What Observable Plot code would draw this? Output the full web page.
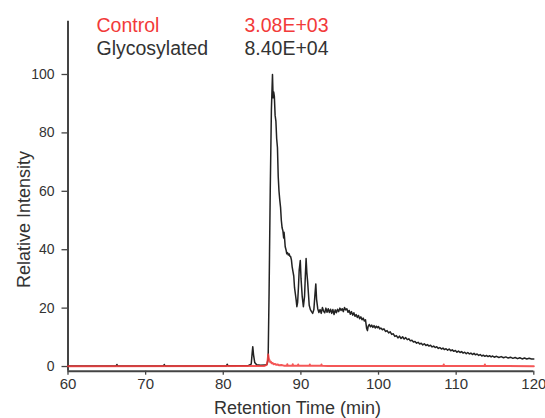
<!DOCTYPE html>
<html>
<head>
<meta charset="utf-8">
<script src="https://cdn.jsdelivr.net/npm/d3@7"></script>
<script src="https://cdn.jsdelivr.net/npm/@observablehq/plot@0.6"></script>
<style>
  html, body { margin: 0; padding: 0; background: #fff; }
  #chart { width: 545px; height: 418px; }
</style>
</head>
<body>
<div id="chart"></div>
<script>
// ---- data ----
const glycoTime = [
  60, 66.2, 66.3, 66.4, 72.3, 72.4, 72.5, 80.4, 80.5, 80.6,
  83.2, 83.6, 83.72, 83.8, 83.9, 84.05, 84.3, 84.8, 85.4, 85.65,
  85.78, 85.9, 86.05, 86.2, 86.34, 86.42, 86.5, 86.58, 86.68, 86.78,
  86.88, 86.98, 87.08, 87.18, 87.28, 87.38, 87.48, 87.58, 87.68, 87.78,
  87.83, 87.88, 87.98, 88.08, 88.18, 88.28, 88.38, 88.48, 88.58, 88.68,
  88.78, 88.88, 88.98, 89.08, 89.18, 89.28, 89.38, 89.48, 89.58, 89.68,
  89.78, 89.92, 90.02, 90.17, 90.32, 90.47, 90.57, 90.67, 90.77, 90.87,
  90.97, 91.07, 91.22, 91.37, 91.52, 91.67, 91.82, 91.92, 92.02, 92.17,
  92.32, 92.47, 92.62, 92.77, 92.92, 93.07, 93.22, 93.37, 93.52, 93.67,
  93.82, 93.97, 94.12, 94.27, 94.42, 94.57, 94.72, 94.87, 95.02, 95.17,
  95.32, 95.47, 95.62, 95.77, 95.92, 96.07, 96.22, 96.37, 96.52, 96.67,
  96.82, 96.97, 97.12, 97.27, 97.42, 97.57, 97.72, 97.87, 98.02, 98.17,
  98.32, 98.47, 98.57, 98.67, 98.82, 98.97, 99.12, 99.27, 99.42, 99.57,
  99.72, 99.87, 100.0, 100.15, 100.3, 100.5, 100.7, 100.9, 101.1, 101.3,
  101.5, 101.7, 101.9, 102.1, 102.3, 102.5, 102.7, 102.9, 103.1, 103.3,
  103.5, 103.7, 103.9, 104.1, 104.3, 104.5, 104.7, 104.9, 105.1, 105.3,
  105.5, 105.7, 105.9, 106.1, 106.3, 106.5, 106.7, 106.9, 107.1, 107.3,
  107.5, 107.7, 107.9, 108.1, 108.3, 108.5, 108.7, 108.9, 109.1, 109.3,
  109.5, 109.7, 109.9, 110.1, 110.3, 110.5, 110.7, 110.9, 111.1, 111.3,
  111.5, 111.7, 111.9, 112.1, 112.3, 112.5, 112.7, 112.9, 113.1, 113.3,
  113.5, 113.7, 113.9, 114.1, 114.3, 114.5, 114.7, 114.9, 115.2, 115.5,
  115.8, 116.1, 116.4, 116.7, 117.0, 117.3, 117.6, 117.9, 118.2, 118.5,
  118.8, 119.1, 119.4, 119.7, 120.0
];
const glycoValue = [
  0.2, 0.2, 0.7, 0.2, 0.2, 0.7, 0.2, 0.2, 0.8, 0.3,
  0.3, 0.8, 4.5, 6.8, 4.0, 1.4, 0.6, 0.4, 0.5, 0.8,
  2.5, 25, 60, 88, 100, 92, 94, 92.5, 86, 84,
  78, 75, 65, 60, 57, 54.5, 50, 47.5, 46.5, 44,
  46, 44.5, 41, 40, 38.6, 39, 38.2, 38.6, 37.8, 37.6,
  36.5, 34, 32.5, 31, 27, 25, 23, 20.5, 22, 27,
  33, 36.3, 30, 24, 20.5, 24, 31, 37, 32, 29,
  25, 21, 19.5, 18.8, 18.2, 19.5, 25, 28.3, 23, 19.8,
  18.5, 19.5, 18.2, 20.2, 19, 18.4, 20, 18.6, 19.8, 18.5,
  19.6, 18.2, 19.5, 17.8, 19.4, 18.4, 19.6, 18.8, 20, 19.2,
  19.8, 18.8, 20.2, 19.4, 19.8, 18.6, 19.2, 17.9, 18.8, 17.6,
  18.4, 17.2, 17.8, 16.8, 17.5, 16.4, 17, 16, 16.6, 15.6,
  16, 13, 12.3, 13.8, 14.4, 13.6, 14.2, 13.4, 14, 13.2,
  13.8, 13.3, 13.7, 12.9, 13.2, 12.6, 12.9, 12.0, 12.3, 11.5,
  11.9, 11.0, 11.2, 10.3, 10.6, 9.8, 10.4, 9.6, 10.2, 9.4,
  9.9, 9.2, 9.5, 8.8, 9.0, 8.4, 8.6, 8.0, 8.3, 7.7,
  8.0, 7.4, 7.8, 7.2, 7.5, 7.0, 7.3, 6.7, 7.0, 6.5,
  6.8, 6.2, 6.5, 6.0, 6.3, 5.8, 6.1, 5.6, 6.0, 5.4,
  5.7, 5.2, 5.5, 4.9, 5.3, 4.8, 5.1, 4.6, 4.9, 4.4,
  4.8, 4.3, 4.6, 4.1, 4.5, 4.0, 4.3, 3.8, 4.1, 3.6,
  3.9, 3.5, 3.8, 3.4, 3.7, 3.3, 3.6, 3.2, 3.5, 3.1,
  3.4, 3.0, 3.3, 2.9, 3.2, 2.8, 3.1, 2.7, 3.0, 2.6,
  2.9, 2.6, 2.8, 2.6, 2.6
];
const controlTime = [
  60, 85.3, 85.6, 85.72, 85.79, 85.86, 85.95, 86.05, 86.15, 86.25,
  86.35, 86.5, 86.65, 86.8, 87.0, 87.2, 87.5, 87.8, 88.2, 88.25,
  88.3, 88.9, 88.95, 89.0, 89.6, 89.65, 89.7, 91.1, 91.15, 91.2,
  92.6, 92.65, 92.7, 93.5, 108.35, 108.4, 108.45, 113.65, 113.7, 113.75,
  120
];
const controlValue = [
  0.1, 0.2, 0.6, 2.2, 4.1, 2.8, 2.2, 1.5, 1.6, 1.1,
  1.2, 0.8, 0.9, 0.6, 0.7, 0.4, 0.5, 0.3, 0.3, 0.8,
  0.3, 0.3, 0.8, 0.3, 0.3, 0.7, 0.3, 0.3, 0.7, 0.3,
  0.3, 0.7, 0.3, 0.2, 0.2, 0.7, 0.2, 0.2, 0.7, 0.2,
  0.1
];
const seriesNames = ["Control", "Glycosylated"];
const seriesTotals = ["3.08E+03", "8.40E+04"];
const xTicks = [60, 70, 80, 90, 100, 110, 120];
const yTicks = [0, 20, 40, 60, 80, 100];

// ---- build tables ----
const glyco = glycoTime.map((t, i) => ({t, v: glycoValue[i]}));
const control = controlTime.map((t, i) => ({t, v: controlValue[i]}));
const legend = seriesNames.map((name, i) => ({name, total: seriesTotals[i], i}));

const RED = "#f23a3a";
const DARK = "#333";
const font = "'Liberation Sans', Arial, Helvetica, sans-serif";

const chart = Plot.plot({
  width: 545,
  height: 418,
  marginLeft: 67.5,
  marginRight: 11.7,
  marginTop: 20.7,
  marginBottom: 47.3,
  style: {fontFamily: font, color: DARK, background: "#fff"},
  x: {domain: [60, 120]},
  y: {domain: [-1.6, 118.25]},
  marks: [
    Plot.axisX({ticks: xTicks, tickSize: 4, tickPadding: 3, fontSize: 15, label: null, tickFormat: d => String(d), stroke: "#444", strokeWidth: 1.3}),
    Plot.axisY({ticks: yTicks, tickSize: 6, tickPadding: 7.5, fontSize: 14, label: null, tickFormat: d => String(d), stroke: "#444", strokeWidth: 1.3}),
    Plot.ruleX([60], {stroke: "#444", strokeWidth: 2}),
    Plot.ruleY([-1.6], {stroke: "#444", strokeWidth: 2}),
    Plot.line(glyco, {x: "t", y: "v", stroke: "#222", strokeWidth: 1.5}),
    Plot.line(control, {x: "t", y: "v", stroke: RED, strokeWidth: 2, strokeOpacity: 0.85}),
    Plot.text([legend[0]], {text: "name", frameAnchor: "top-left", textAnchor: "start", lineAnchor: "bottom", dx: 28.5, dy: 10.3, fill: RED, fontSize: 19.5}),
    Plot.text([legend[1]], {text: "name", frameAnchor: "top-left", textAnchor: "start", lineAnchor: "bottom", dx: 28.5, dy: 33.6, fill: DARK, fontSize: 19.5}),
    Plot.text([legend[0]], {text: "total", frameAnchor: "top-left", textAnchor: "start", lineAnchor: "bottom", dx: 176.5, dy: 10.3, fill: RED, fontSize: 19.5}),
    Plot.text([legend[1]], {text: "total", frameAnchor: "top-left", textAnchor: "start", lineAnchor: "bottom", dx: 176.5, dy: 33.6, fill: DARK, fontSize: 19.5}),
    Plot.text(["Retention Time (min)"], {frameAnchor: "bottom", textAnchor: "middle", lineAnchor: "bottom", dx: -3.4, dy: 42.3, fill: DARK, fontSize: 18}),
    Plot.text(["Relative Intensity"], {frameAnchor: "left", textAnchor: "middle", lineAnchor: "bottom", rotate: -90, dx: -38.5, dy: 23.3, fill: DARK, fontSize: 18})
  ]
});
document.getElementById("chart").appendChild(chart);
</script>
</body>
</html>
